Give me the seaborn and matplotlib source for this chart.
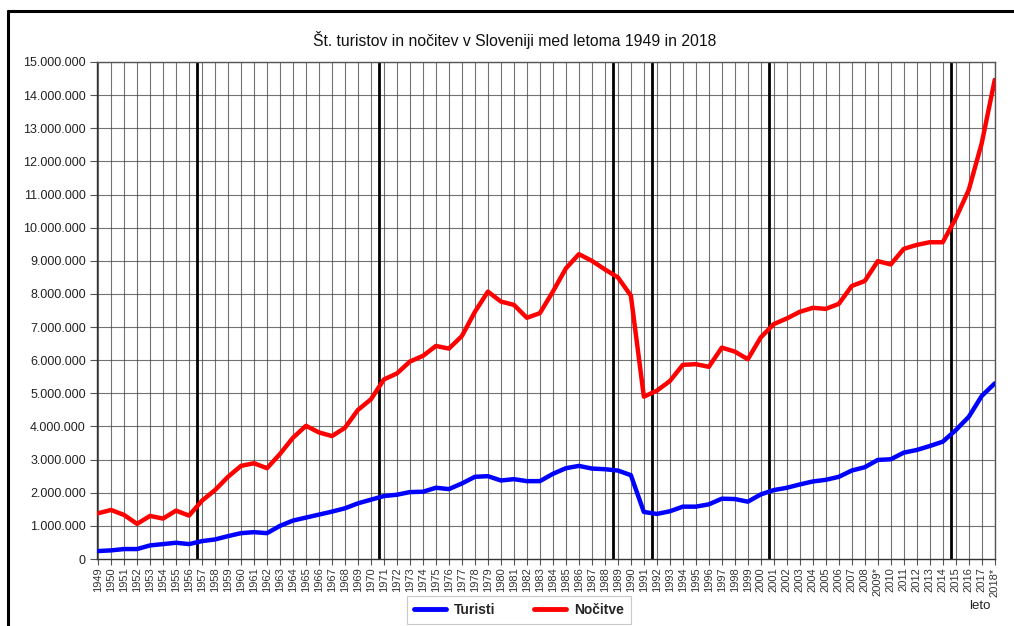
import matplotlib
matplotlib.use("Agg")
import matplotlib.pyplot as plt
from matplotlib.lines import Line2D
from matplotlib.ticker import FuncFormatter, MultipleLocator
import seaborn as sns
import pandas as pd

years = list(range(1949, 2019))
year_labels = [str(y) for y in years]
year_labels[years.index(2009)] = "2009*"
year_labels[years.index(2018)] = "2018*"

turisti = [
    240000, 260000, 300000, 300000, 410000, 450000, 490000, 450000, 540000, 590000,
    690000, 780000, 810000, 780000, 1000000, 1160000, 1250000, 1340000, 1430000, 1530000,
    1680000, 1790000, 1900000, 1940000, 2020000, 2030000, 2150000, 2110000, 2280000, 2480000,
    2500000, 2370000, 2410000, 2350000, 2350000, 2570000, 2740000, 2810000, 2730000, 2710000,
    2670000, 2530000, 1420000, 1360000, 1440000, 1580000, 1580000, 1650000, 1820000, 1810000,
    1730000, 1950000, 2080000, 2150000, 2250000, 2340000, 2390000, 2480000, 2670000, 2770000,
    2990000, 3010000, 3210000, 3290000, 3410000, 3540000, 3890000, 4290000, 4920000, 5300000,
]
nocitve = [
    1380000, 1480000, 1330000, 1060000, 1300000, 1220000, 1460000, 1310000, 1760000, 2080000,
    2480000, 2810000, 2890000, 2740000, 3170000, 3660000, 4020000, 3820000, 3710000, 3960000,
    4500000, 4820000, 5420000, 5600000, 5960000, 6130000, 6430000, 6350000, 6730000, 7460000,
    8070000, 7770000, 7670000, 7280000, 7420000, 8070000, 8770000, 9200000, 9000000, 8740000,
    8500000, 7950000, 4900000, 5080000, 5370000, 5860000, 5880000, 5800000, 6380000, 6260000,
    6030000, 6690000, 7090000, 7260000, 7460000, 7580000, 7550000, 7700000, 8240000, 8390000,
    8990000, 8890000, 9360000, 9480000, 9560000, 9560000, 10280000, 11140000, 12550000, 14460000,
]
series_names = ["Turisti", "Nočitve"]
# years after which a thick separator line is drawn (period boundaries)
separator_years = [1956, 1970, 1988, 1991, 2000, 2014]

df = pd.DataFrame({
    "leto": years * 2,
    "vrednost": turisti + nocitve,
    "serija": [series_names[0]] * len(years) + [series_names[1]] * len(years),
})

sns.set_style("white")
plt.rcParams["font.family"] = ["Liberation Sans", "DejaVu Sans"]

fig = plt.figure(figsize=(10.14, 6.26), dpi=100)
ax = fig.add_axes([97 / 1014, 1 - 559 / 626, (995 - 97) / 1014, (559 - 62) / 626])

sns.lineplot(data=df, x="leto", y="vrednost", hue="serija",
             palette={"Turisti": "#0000ff", "Nočitve": "#ff0000"},
             linewidth=3.2, ax=ax, legend=False, zorder=5)

ax.set_xlim(years[0] - 0.08, years[-1] + 0.02)
ax.set_ylim(0, 15000000)
ax.yaxis.set_major_locator(MultipleLocator(1000000))
ax.yaxis.set_major_formatter(FuncFormatter(lambda v, p: f"{int(v):,}".replace(",", ".")))
ax.set_xticks(years)
ax.set_xticklabels(year_labels, rotation=90, fontsize=8, color="#333333")
ax.tick_params(axis="y", labelsize=9, colors="#222222", length=5, width=0.8, direction="out", left=True, pad=3)
ax.tick_params(axis="x", length=4, width=0.8, direction="out", bottom=True, pad=2)
ax.yaxis.set_tick_params(color="#555555")
ax.xaxis.set_tick_params(color="#555555")

for y in years:
    ax.axvline(y, color="#444444", lw=0.8, alpha=0.75, zorder=1)
for v in range(1000000, 15000001, 1000000):
    ax.axhline(v, color="#444444", lw=0.8, alpha=0.75, zorder=1)
for y in separator_years:
    ax.axvline(y + 0.6, color="black", lw=2.0, zorder=2)

for side in ["left", "bottom"]:
    ax.spines[side].set_color("#333333")
    ax.spines[side].set_linewidth(1.0)
for side in ["top", "right"]:
    ax.spines[side].set_color("#555555")
    ax.spines[side].set_linewidth(1.0)

ax.set_xlabel("")
ax.set_ylabel("")

fig.text(515 / 1014, 1 - 40 / 626, "Št. turistov in nočitev v Sloveniji med letoma 1949 in 2018",
         ha="center", va="center", fontsize=11.3, color="#111111")
fig.text(980 / 1014, 1 - 606 / 626, "leto", ha="center", va="center", fontsize=9.5, color="#222222")

handles = [Line2D([0], [0], color="#0000ff", lw=3.5), Line2D([0], [0], color="#ff0000", lw=3.5)]
leg = fig.legend(handles, series_names, loc="center", bbox_to_anchor=(519 / 1014, 1 - 610 / 626),
                 ncol=2, frameon=True, fancybox=False, edgecolor="#bbbbbb",
                 prop={"weight": "bold", "size": 10}, handlelength=2.3,
                 columnspacing=2.8, borderpad=0.5, handletextpad=0.6)
leg.get_frame().set_linewidth(0.8)

# outer frame lines (top and left)
fig.add_artist(Line2D([8 / 1014, 1.0], [1 - 11 / 626, 1 - 11 / 626], color="black", lw=2.2,
                      transform=fig.transFigure))
fig.add_artist(Line2D([8 / 1014, 8 / 1014], [0, 1 - 11 / 626], color="black", lw=2.2,
                      transform=fig.transFigure))

fig.savefig("out.png", dpi=100, facecolor="white")
